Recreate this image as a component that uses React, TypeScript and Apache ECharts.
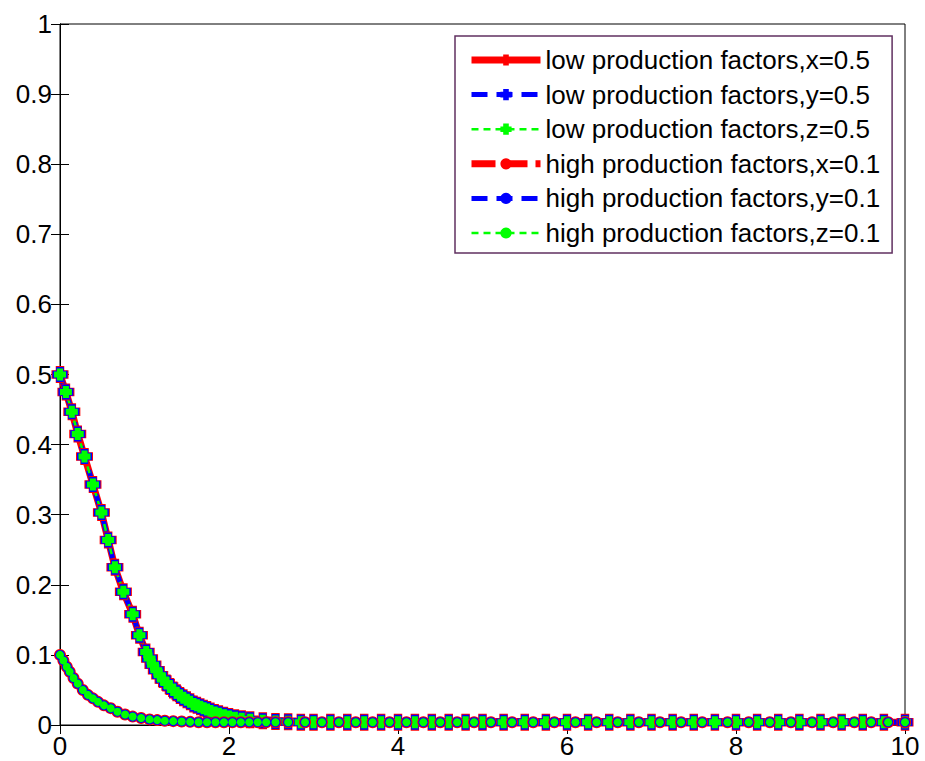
import React, { useEffect, useRef } from "react";
import * as echarts from "echarts";

const tLow = [0, 0.07, 0.14, 0.21, 0.29, 0.39, 0.49, 0.57, 0.65, 0.75, 0.86, 0.94, 1.02, 1.06, 1.1, 1.14, 1.18, 1.22, 1.26, 1.3, 1.34, 1.38, 1.42, 1.46, 1.5, 1.54, 1.58, 1.62, 1.66, 1.7, 1.74, 1.78, 1.83, 1.88, 1.94, 2.0, 2.07, 2.15, 2.25, 2.4, 2.55, 2.7, 2.85, 3.0, 3.2, 3.4, 3.6, 3.8, 4.0, 4.2, 4.4, 4.6, 4.8, 5.0, 5.25, 5.5, 5.75, 6.0, 6.25, 6.5, 6.75, 7.0, 7.25, 7.5, 7.75, 8.0, 8.25, 8.5, 8.75, 9.0, 9.25, 9.5, 9.75, 10];
const lowVals = [0.5, 0.475, 0.447, 0.415, 0.383, 0.343, 0.303, 0.264, 0.225, 0.19, 0.158, 0.128, 0.104, 0.095, 0.086, 0.078, 0.071, 0.065, 0.06, 0.055, 0.05, 0.046, 0.042, 0.039, 0.036, 0.033, 0.03, 0.028, 0.026, 0.024, 0.022, 0.02, 0.018, 0.016, 0.014, 0.012, 0.0105, 0.009, 0.0075, 0.006, 0.005, 0.0045, 0.004, 0.004, 0.004, 0.004, 0.004, 0.004, 0.004, 0.004, 0.004, 0.004, 0.004, 0.004, 0.004, 0.004, 0.004, 0.004, 0.004, 0.004, 0.004, 0.004, 0.004, 0.004, 0.004, 0.004, 0.004, 0.004, 0.004, 0.004, 0.004, 0.004, 0.004, 0.004];

const tHigh = [0, 0.04, 0.08, 0.115, 0.16, 0.21, 0.27, 0.33, 0.39, 0.45, 0.52, 0.6, 0.68, 0.77, 0.86, 0.96, 1.06, 1.15, 1.24, 1.34, 1.44, 1.54, 1.64, 1.74, 1.84, 1.94, 2.04, 2.14, 2.24, 2.34, 2.44, 2.55, 2.7, 2.9, 3.1, 3.3, 3.5, 3.7, 3.9, 4.1, 4.3, 4.5, 4.7, 4.9, 5.1, 5.35, 5.6, 5.85, 6.1, 6.35, 6.6, 6.85, 7.1, 7.35, 7.6, 7.9, 8.15, 8.4, 8.65, 8.9, 9.15, 9.4, 9.6, 9.8, 10];
const highVals = [0.1, 0.092, 0.083, 0.076, 0.067, 0.059, 0.05, 0.043, 0.038, 0.033, 0.028, 0.024, 0.019, 0.015, 0.012, 0.01, 0.008, 0.007, 0.006, 0.0055, 0.005, 0.0045, 0.004, 0.004, 0.004, 0.004, 0.004, 0.004, 0.004, 0.004, 0.004, 0.004, 0.004, 0.004, 0.004, 0.004, 0.004, 0.004, 0.004, 0.004, 0.004, 0.004, 0.004, 0.004, 0.004, 0.004, 0.004, 0.004, 0.004, 0.004, 0.004, 0.004, 0.004, 0.004, 0.004, 0.004, 0.004, 0.004, 0.004, 0.004, 0.004, 0.004, 0.004, 0.004, 0.004];

const seriesNames = [
  "low production factors,x=0.5",
  "low production factors,y=0.5",
  "low production factors,z=0.5",
  "high production factors,x=0.1",
  "high production factors,y=0.1",
  "high production factors,z=0.1",
];
const yTicks = [0, 0.1, 0.2, 0.3, 0.4, 0.5, 0.6, 0.7, 0.8, 0.9, 1];
const xTicks = [0, 2, 4, 6, 8, 10];

const FONT = 'Arial, "Liberation Sans", sans-serif';
const PLUS = "path://M3,0H9V3H12V9H9V12H3V9H0V3H3Z";

export default function App() {
  const ref = useRef<HTMLDivElement>(null);
  useEffect(() => {
    if (!ref.current) return;
    const chart = echarts.init(ref.current, null, { renderer: "svg" });
    const low = tLow.map((t, i) => [t, lowVals[i]]);
    const high = tHigh.map((t, i) => [t, highVals[i]]);
    const axisCommon = {
      axisLine: { show: true, lineStyle: { color: "#000", width: 1 } },
      axisTick: { show: true, inside: true, length: 9, lineStyle: { color: "#000" } },
      splitLine: { show: false },
    };
    const mk = (name: string, data: number[][], color: string, width: number, type: any, symbol: string, size: number) => ({
      name,
      type: "line",
      data,
      color,
      lineStyle: { color, width, type },
      itemStyle: { color },
      symbol,
      symbolSize: size,
      showSymbol: true,
      smooth: false,
    });
    chart.setOption({
      animation: false,
      backgroundColor: "#fff",
      textStyle: { fontFamily: FONT },
      grid: { left: 60, right: 20, top: 24, bottom: 36, show: true, borderColor: "#000", borderWidth: 1, backgroundColor: "transparent" },
      legend: {
        orient: "vertical",
        left: 455,
        top: 36,
        data: seriesNames,
        selectedMode: false,
        backgroundColor: "#fff",
        borderColor: "#603060",
        borderWidth: 1.5,
        borderRadius: 0,
        padding: [11, 12, 7, 13],
        itemWidth: 69,
        itemHeight: 14,
        itemGap: 8.6,
        lineStyle: { width: "inherit" },
        textStyle: { fontFamily: FONT, fontSize: 26, lineHeight: 26, color: "#000" },
      },
      xAxis: [
        {
          type: "value", min: 0, max: 10, interval: 2, position: "bottom",
          ...axisCommon,
          axisLabel: { color: "#000", fontSize: 26, fontFamily: FONT, margin: 8, formatter: (v: number) => (xTicks.includes(v) ? String(v) : "") },
        },
        {
          type: "value", min: 0, max: 10, interval: 2, position: "top",
          ...axisCommon,
          axisLabel: { show: false },
        },
      ],
      yAxis: [
        {
          type: "value", min: 0, max: 1, interval: 0.1, position: "left",
          ...axisCommon,
          axisLabel: { color: "#000", fontSize: 26, fontFamily: FONT, margin: 8, formatter: (v: number) => { const r = Math.round(v * 10) / 10; return yTicks.includes(r) ? String(r) : ""; } },
        },
        {
          type: "value", min: 0, max: 1, interval: 0.1, position: "right",
          ...axisCommon,
          axisLabel: { show: false },
        },
      ],
      series: [
        mk(seriesNames[0], low, "#ff0000", 7, "solid", PLUS, 17),
        mk(seriesNames[1], low, "#0000ff", 5, [16, 9], PLUS, 15),
        mk(seriesNames[2], low, "#00ff00", 2.5, [7, 5], PLUS, 12),
        mk(seriesNames[3], high, "#ff0000", 7, [24, 8], "circle", 12),
        mk(seriesNames[4], high, "#0000ff", 5, [16, 9], "circle", 10),
        mk(seriesNames[5], high, "#00ff00", 2.5, [7, 5], "circle", 8),
      ],
    });
    return () => chart.dispose();
  }, []);
  return <div ref={ref} style={{ position: "absolute", left: 0, top: 0, width: 925, height: 761 }} />;
}
